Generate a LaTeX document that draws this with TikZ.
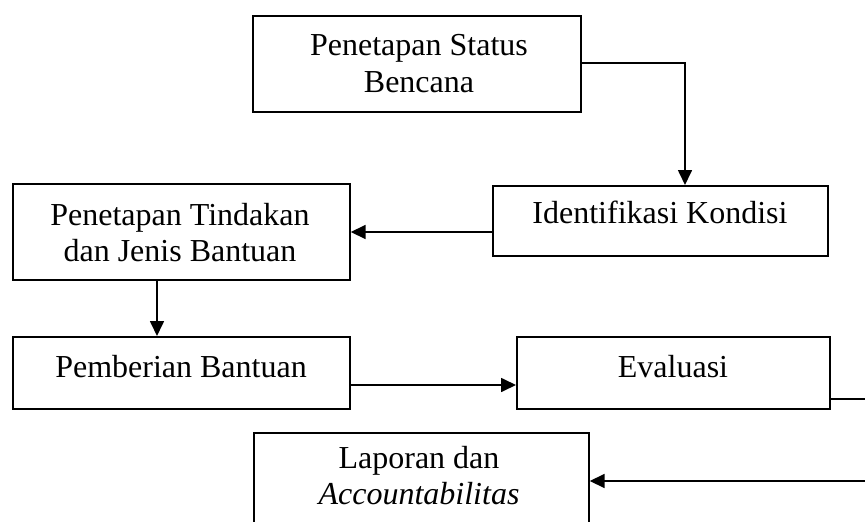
\documentclass[tikz,border=0pt]{standalone}
\usepackage{fontspec}
\setmainfont{Liberation Serif}
\usetikzlibrary{arrows.meta}
\tikzset{
  box/.style={draw, line width=1.7pt, rectangle, inner sep=0pt, anchor=north west},
  lbl/.style={anchor=base, inner sep=0pt, font=\fontsize{32}{36}\selectfont},
  conn/.style={line width=1.7pt},
  arr/.style={conn, -{Triangle[length=15pt,width=14pt]}}
}
\begin{document}
\begin{tikzpicture}[x=1pt,y=-1pt]
\clip (0,0) rectangle (865,522);
\fill[white] (0,0) rectangle (865,522);
% boxes
\node[box, minimum width=328pt, minimum height=96pt] (b1) at (252,15) {};
\node[box, minimum width=335pt, minimum height=70pt] (b2) at (492,185) {};
\node[box, minimum width=337pt, minimum height=96pt] (b3) at (12,183) {};
\node[box, minimum width=337pt, minimum height=72pt] (b4) at (12,336) {};
\node[box, minimum width=313pt, minimum height=72pt] (b5) at (516,336) {};
\node[box, minimum width=335pt, minimum height=120pt] (b6) at (253,432) {};
% texts
\node[lbl] (t1a) at (419,55) {Penetapan Status};
\node[lbl] (t1b) at (419,92) {Bencana};
\node[lbl] (t2) at (660,223) {Identifikasi Kondisi};
\node[lbl] (t3a) at (180,225) {Penetapan Tindakan};
\node[lbl] (t3b) at (180,261) {dan Jenis Bantuan};
\node[lbl] (t4) at (181,377) {Pemberian Bantuan};
\node[lbl] (t5) at (673,377) {Evaluasi};
\node[lbl] (t6a) at (419,468) {Laporan dan};
\node[lbl] (t6b) at (419,504) {\itshape Accountabilitas};
% connectors
\coordinate (c12) at (685,63);
\draw[arr] (b1.east |- c12) -| (b2.north -| c12);
\coordinate (c23) at (0,232);
\draw[arr] (b2.west |- c23) -- (b3.east |- c23);
\coordinate (c34) at (157,0);
\draw[arr] (b3.south -| c34) -- (b4.north -| c34);
\coordinate (c45) at (0,385);
\draw[arr] (b4.east |- c45) -- (b5.west |- c45);
\coordinate (r1) at (885,399);
\coordinate (r2) at (885,481);
\draw[arr] (b5.east |- r1) -- (r1) -- (r2) -- (b6.east |- r2);
\end{tikzpicture}
\end{document}
